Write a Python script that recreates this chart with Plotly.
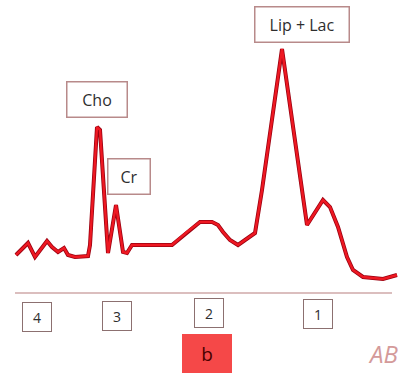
import plotly.graph_objects as go

# Spectrum trace (arbitrary chemical-shift position units, intensity above baseline)
pos = [16, 28, 35, 42, 47, 52, 58, 64, 68, 75, 88, 90, 97, 100, 108, 116, 123, 127, 132,
       172, 187, 200, 212, 218, 223, 230, 238, 245, 255, 262, 282, 307, 317, 323, 330,
       338, 347, 353, 363, 377, 383, 397]
intensity = [38, 50, 36, 46, 52, 46, 41, 45, 38, 36, 37, 48, 166, 163, 40, 88, 41, 40, 48,
             48, 61, 71, 71, 68, 61, 53, 48, 53, 60, 103, 244, 68, 83, 93, 86,
             66, 36, 23, 16, 15, 14, 18]

ppm_labels = ["4", "3", "2", "1"]
ppm_pos = [37, 117, 209, 318]
ppm_lab_y = [-24, -22.5, -20, -20.5]

peak_names = ["Cho", "Cr", "Lip + Lac"]
peak_pos = [97, 129, 302]
peak_lab_y = [193.5, 117, 269]

fig = go.Figure()
fig.add_trace(go.Scatter(x=pos, y=intensity, mode="lines",
                         line=dict(color="#9a0010", width=4.0), hoverinfo="skip"))
fig.add_trace(go.Scatter(x=pos, y=intensity, mode="lines",
                         line=dict(color="#ee1822", width=2.4), hoverinfo="skip"))

fig.add_shape(type="line", x0=15, x1=392, y0=0, y1=0,
              line=dict(color="#cfa8a8", width=1.5))

font = "Open Sans"
widths = [59, 41, 93]
for name, x, y, w in zip(peak_names, peak_pos, peak_lab_y, widths):
    fig.add_annotation(x=x, y=y, text=name, showarrow=False,
                       font=dict(family=font, size=16, color="#2e2e2e"),
                       width=w, height=34, bgcolor="white",
                       bordercolor="#b88a8a", borderwidth=1.5, borderpad=0)

for lab, x, y in zip(ppm_labels, ppm_pos, ppm_lab_y):
    fig.add_annotation(x=x, y=y, text=lab, showarrow=False,
                       font=dict(family=font, size=14, color="#2e2e2e"),
                       width=28, height=28, bgcolor="white",
                       bordercolor="#8c7070", borderwidth=1, borderpad=0)

fig.add_annotation(x=207, y=-60.5, text="b", showarrow=False,
                   font=dict(family=font, size=19, color="#4a0000"),
                   width=50, height=39, bgcolor="#f54848", borderwidth=0, borderpad=0)

fig.add_annotation(x=400, y=-60, text="<i>AB</i>", showarrow=False, xanchor="right",
                   font=dict(family=font, size=24, color="#d49a9a"))

fig.update_layout(width=401, height=374, margin=dict(l=0, r=0, t=0, b=0),
                  paper_bgcolor="white", plot_bgcolor="white", showlegend=False,
                  xaxis=dict(range=[0, 401], visible=False, fixedrange=True),
                  yaxis=dict(range=[-81, 293], visible=False, fixedrange=True))

fig.write_html("out.html", config={"displayModeBar": False})
